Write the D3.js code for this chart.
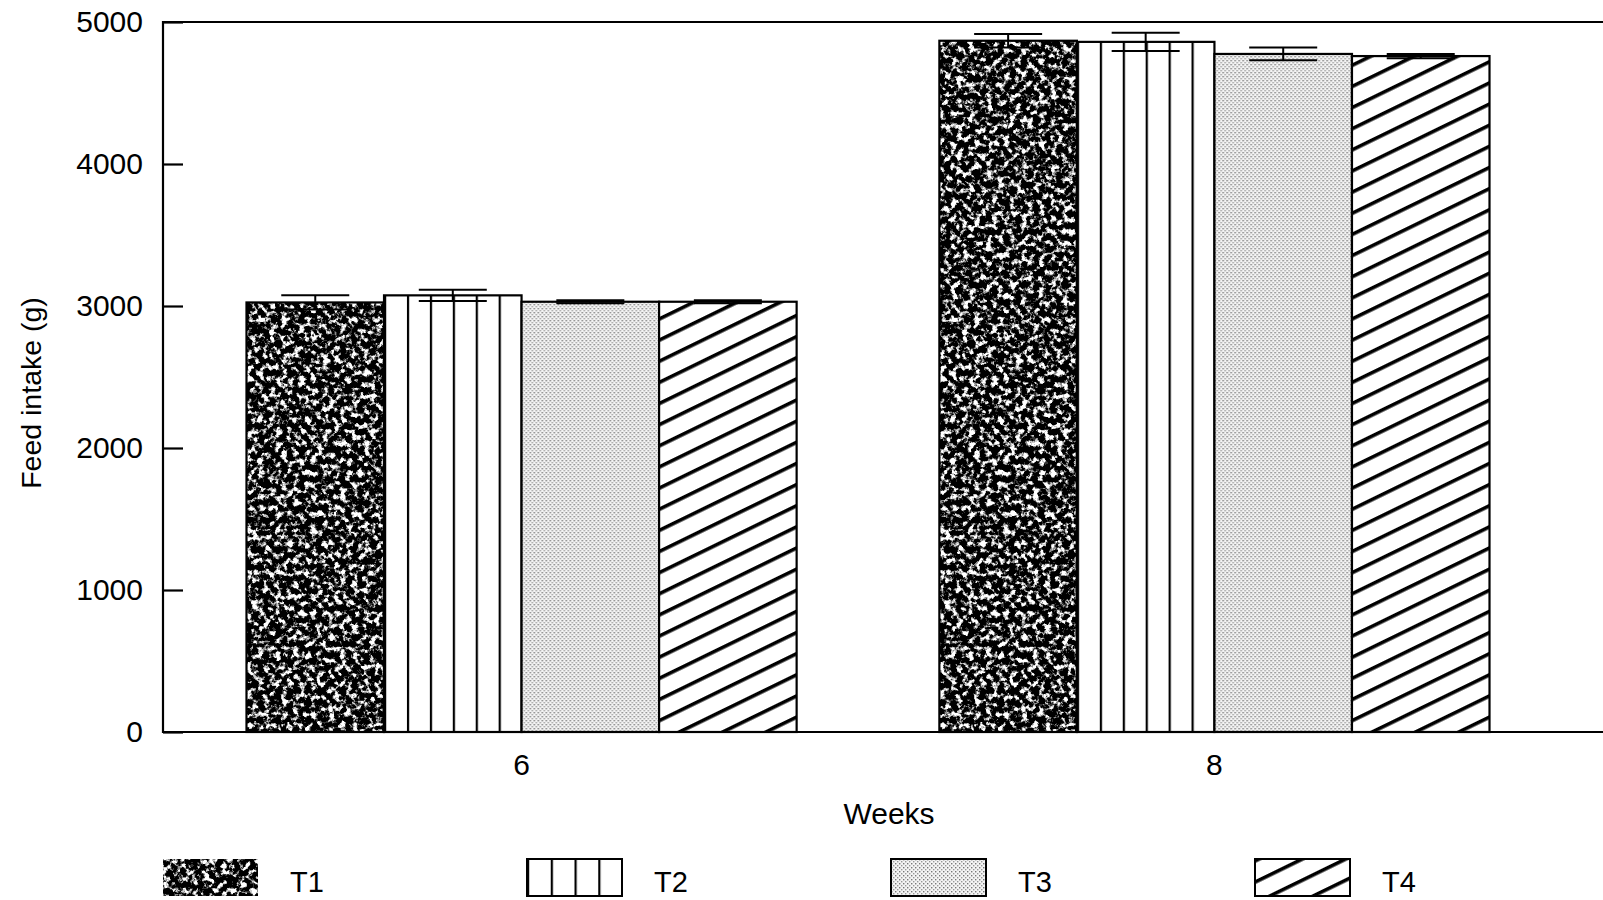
<!DOCTYPE html>
<html lang="en">
<head>
	<meta charset="UTF-8">
	<title>Feed intake</title>
	<style>
		body { margin: 0; background: #fff; }
		text { font-family: "Liberation Sans", Arial, sans-serif; fill: #000; }
	</style>
</head>
<body>
<svg id="chart" width="1603" height="900"></svg>
<script src="https://cdn.jsdelivr.net/npm/d3@7/dist/d3.min.js"></script>
<script>
	// data
	var weeks = ["6", "8"];
	var treatments = ["T1", "T2", "T3", "T4"];
	var intakeT1 = [3025, 4868];
	var intakeT2 = [3075, 4860];
	var intakeT3 = [3030, 4775];
	var intakeT4 = [3030, 4760];
	var errT1 = [50, 47];
	var errT2 = [40, 65];
	var errT3 = [10, 45];
	var errT4 = [10, 15];
	var yTicks = [0, 1000, 2000, 3000, 4000, 5000];

	var values = { T1: intakeT1, T2: intakeT2, T3: intakeT3, T4: intakeT4 };
	var errors = { T1: errT1, T2: errT2, T3: errT3, T4: errT4 };

	var plotLeft = 163, plotTop = 22, plotBottom = 732, plotRight = 1603;
	var svg = d3.select("#chart");
	var defs = svg.append("defs");

	// T1: dark speckle made from noise
	var f = defs.append("filter").attr("id", "speckle")
		.attr("color-interpolation-filters", "sRGB");
	f.append("feTurbulence").attr("type", "fractalNoise")
		.attr("baseFrequency", 0.17).attr("numOctaves", 3).attr("seed", 7);
	f.append("feColorMatrix").attr("type", "matrix")
		.attr("values", "1 0 0 0 0  1 0 0 0 0  1 0 0 0 0  0 0 0 0 1");
	var ct = f.append("feComponentTransfer");
	var table = "0 0 0 0 0 0 0 0 0 0 0.2 0.55 0.8 1 1 1 1 1 1 1";
	["feFuncR", "feFuncG", "feFuncB"].forEach(function(n) {
		ct.append(n).attr("type", "discrete").attr("tableValues", table);
	});
	f.append("feComposite").attr("operator", "in").attr("in2", "SourceGraphic");

	// T2: vertical lines
	function vlines(id, frac) {
		var p = defs.append("pattern").attr("id", id)
			.attr("patternUnits", "objectBoundingBox")
			.attr("width", frac).attr("height", 1);
		p.append("rect").attr("width", 200).attr("height", 1000).attr("fill", "#fff");
		p.append("rect").attr("x", 0).attr("width", 2.2).attr("height", 1000).attr("fill", "#000");
	}
	vlines("vbar", 1 / 6);
	vlines("vleg", 1 / 4);

	// T3: light stipple
	var dots = defs.append("pattern").attr("id", "stipple")
		.attr("patternUnits", "userSpaceOnUse").attr("width", 4).attr("height", 4);
	dots.append("rect").attr("width", 4).attr("height", 4).attr("fill", "#f4f4f4");
	dots.append("rect").attr("x", 0).attr("y", 0).attr("width", 1.4).attr("height", 1.4).attr("fill", "#777");
	dots.append("rect").attr("x", 2).attr("y", 2).attr("width", 1.4).attr("height", 1.4).attr("fill", "#999");

	// T4: diagonal hatch
	var hatch = defs.append("pattern").attr("id", "hatch")
		.attr("patternUnits", "userSpaceOnUse").attr("width", 10).attr("height", 19)
		.attr("patternTransform", "rotate(-26)");
	hatch.append("rect").attr("width", 10).attr("height", 19).attr("fill", "#fff");
	hatch.append("rect").attr("width", 10).attr("height", 3.6).attr("fill", "#000");

	var fills = { T1: "#000", T2: "url(#vbar)", T3: "url(#stipple)", T4: "url(#hatch)" };
	var legFills = { T1: "#000", T2: "url(#vleg)", T3: "url(#stipple)", T4: "url(#hatch)" };

	var y = d3.scaleLinear().domain([0, 5000]).range([plotBottom, plotTop]);
	var x0 = d3.scaleBand().domain(weeks).range([plotLeft, 1573])
		.paddingInner(0.206).paddingOuter(0.1205);
	var x1 = d3.scaleBand().domain(treatments).range([0, x0.bandwidth()]);

	var rows = [];
	weeks.forEach(function(w, i) {
		treatments.forEach(function(t) {
			rows.push({ week: w, t: t, v: values[t][i], e: errors[t][i] });
		});
	});

	var bars = svg.append("g").selectAll("g").data(rows).join("g")
		.attr("transform", d => `translate(${x0(d.week) + x1(d.t)},0)`);
	bars.append("rect")
		.attr("y", d => y(d.v)).attr("width", x1.bandwidth())
		.attr("height", d => plotBottom - y(d.v))
		.attr("fill", d => fills[d.t])
		.attr("filter", d => d.t == "T1" ? "url(#speckle)" : null);
	bars.append("rect")
		.attr("y", d => y(d.v)).attr("width", x1.bandwidth())
		.attr("height", d => plotBottom - y(d.v))
		.attr("fill", "none").attr("stroke", "#000").attr("stroke-width", 2.2);

	// error bars
	var cw = 34, cx = x1.bandwidth() / 2;
	bars.append("line").attr("x1", cx).attr("x2", cx)
		.attr("y1", d => y(d.v + d.e)).attr("y2", d => y(d.v - d.e))
		.attr("stroke", "#000").attr("stroke-width", 2);
	bars.append("line").attr("x1", cx - cw).attr("x2", cx + cw)
		.attr("y1", d => y(d.v + d.e)).attr("y2", d => y(d.v + d.e))
		.attr("stroke", "#000").attr("stroke-width", 2);
	bars.append("line").attr("x1", cx - cw).attr("x2", cx + cw)
		.attr("y1", d => y(d.v - d.e)).attr("y2", d => y(d.v - d.e))
		.attr("stroke", "#000").attr("stroke-width", 2);

	// frame
	svg.append("path").attr("fill", "none").attr("stroke", "#000").attr("stroke-width", 2.2)
		.attr("d", `M${plotRight},${plotTop}H${plotLeft}V${plotBottom}H${plotRight}`);

	var yAxis = svg.append("g").attr("transform", `translate(${plotLeft},0)`)
		.call(d3.axisLeft(y).tickValues(yTicks).tickFormat(d3.format("d")).tickSize(-20).tickPadding(20));
	yAxis.select(".domain").remove();
	yAxis.selectAll("line").attr("stroke-width", 2.2);
	yAxis.selectAll("text").attr("font-size", 30).attr("font-family", null);

	var xAxis = svg.append("g").attr("transform", `translate(0,${plotBottom})`)
		.call(d3.axisBottom(x0).tickSize(0).tickPadding(22));
	xAxis.select(".domain").remove();
	xAxis.selectAll("text").attr("font-size", 30).attr("font-family", null);

	svg.append("text").attr("x", 889).attr("y", 824).attr("text-anchor", "middle")
		.attr("font-size", 30).text("Weeks");
	svg.append("text").attr("transform", "translate(41,393) rotate(-90)")
		.attr("text-anchor", "middle").attr("font-size", 28.5).text("Feed intake (g)");

	// legend
	var leg = svg.append("g").selectAll("g").data(treatments).join("g")
		.attr("transform", (d, i) => `translate(${163 + i * 364},859)`);
	leg.append("rect").attr("width", 95).attr("height", 37)
		.attr("fill", d => legFills[d])
		.attr("filter", d => d == "T1" ? "url(#speckle)" : null);
	leg.append("rect").attr("width", 95).attr("height", 37)
		.attr("fill", "none").attr("stroke", "#000").attr("stroke-width", 2)
		.attr("stroke-opacity", d => d == "T1" ? 0 : 1);
	leg.append("text").attr("x", 127).attr("y", 33).attr("font-size", 29).text(d => d);
</script>
</body>
</html>
